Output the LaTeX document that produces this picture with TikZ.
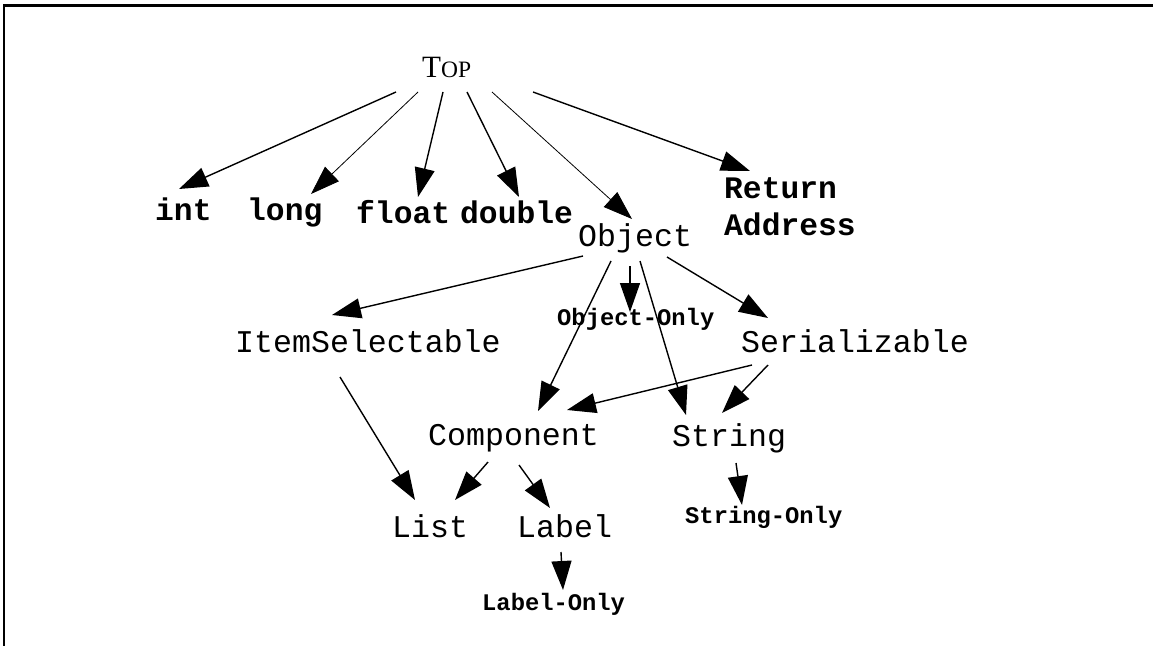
\documentclass[tikz,border=0pt]{standalone}
\usepackage{fontspec}
\setmainfont{Liberation Serif}
\newfontfamily\monoface{Liberation Mono}
\usetikzlibrary{arrows.meta,calc}
\begin{document}
\begin{tikzpicture}[x=1pt,y=-1pt,
  lbl/.style={inner sep=0pt, anchor=base west, font=\monoface\fontsize{31.6}{37}\selectfont},
  prim/.style={inner sep=0pt, anchor=base west, font=\monoface\bfseries\fontsize{31.3}{37}\selectfont},
  only/.style={inner sep=0pt, anchor=base west, font=\monoface\bfseries\fontsize{23.8}{26}\selectfont},
  arr/.style={line width=1.4pt, -{Triangle[length=29pt,width=20pt]}},
  fine/.style={line width=0.8pt}]
\useasboundingbox (0,0) rectangle (1153,645);
% frame edges
\draw[line width=2.8pt] (4,650) -- (4,5.2) -- (1160,5.2);

% type nodes
\node[inner sep=0pt, anchor=base west] (top) at (422,77)
  {\fontsize{31}{34}\selectfont T\fontsize{23.5}{26}\selectfont OP};
\node[prim] (int)    at (155,220) {int};
\node[prim] (long)   at (247,220) {long};
\node[prim] (float)  at (356,223) {float};
\node[prim] (double) at (460,223) {double};
\node[lbl]  (obj)    at (578,246) {Object};
\node[prim, align=left] (ret) at (724,235) {Return\\Address};
\node[lbl]  (items)  at (235,352) {ItemSelectable};
\node[only] (oonly)  at (557,325) {Object-Only};
\node[lbl]  (ser)    at (741,352) {Serializable};
\node[lbl]  (comp)   at (428,445) {Component};
\node[lbl]  (str)    at (672,446) {String};
\node[only] (sonly)  at (685,523) {String-Only};
\node[lbl]  (list)   at (392,537) {List};
\node[lbl]  (label)  at (517,537) {Label};
\node[only] (lonly)  at (482,610) {Label-Only};

% edges from Top
\draw[arr] ($(top.base west)+(-26,15)$) -- ($(int.base west)+(24,-31)$);
\draw[arr,fine] ($(top.base west)+(-4,15)$) -- ($(long.base west)+(64,-26)$);
\draw[arr] ($(top.base west)+(21,15)$) -- ($(float.base west)+(62,-26)$);
\draw[arr] ($(top.base west)+(45,15)$) -- ($(double.base west)+(59,-26)$);
\draw[arr,fine] ($(top.base west)+(70,15)$) -- ($(obj.base west)+(54,-27)$);
\draw[arr] ($(top.base west)+(111,15)$) -- ($(ret.base west)+(26,-64)$);

% edges from Object
\draw[arr] ($(obj.base west)+(5,10)$) -- ($(items.base west)+(97,-37)$);
\draw[arr] ($(obj.base west)+(52,20)$) -- ($(oonly.base west)+(73,-13)$);
\draw[arr] ($(obj.base west)+(33,15)$) -- ($(comp.base west)+(110,-34)$);
\draw[arr] ($(obj.base west)+(62,15)$) -- ($(str.base west)+(14,-31)$);
\draw[arr] ($(obj.base west)+(89,11)$) -- ($(ser.base west)+(27,-34)$);

% edges from Serializable
\draw[arr] ($(ser.base west)+(11,13)$) -- ($(comp.base west)+(139,-35)$);
\draw[arr] ($(ser.base west)+(27,13)$) -- ($(str.base west)+(50,-33)$);

% lower edges
\draw[arr] ($(items.base west)+(105,25)$) -- ($(list.base west)+(23,-37)$);
\draw[arr] ($(comp.base west)+(60,17)$) -- ($(list.base west)+(63,-37)$);
\draw[arr] ($(comp.base west)+(91,20)$) -- ($(label.base west)+(33,-29)$);
\draw[arr] ($(str.base west)+(64,17)$) -- ($(sonly.base west)+(57,-18)$);
\draw[arr] ($(label.base west)+(44,15)$) -- ($(lonly.base west)+(81,-20)$);
\end{tikzpicture}
\end{document}
